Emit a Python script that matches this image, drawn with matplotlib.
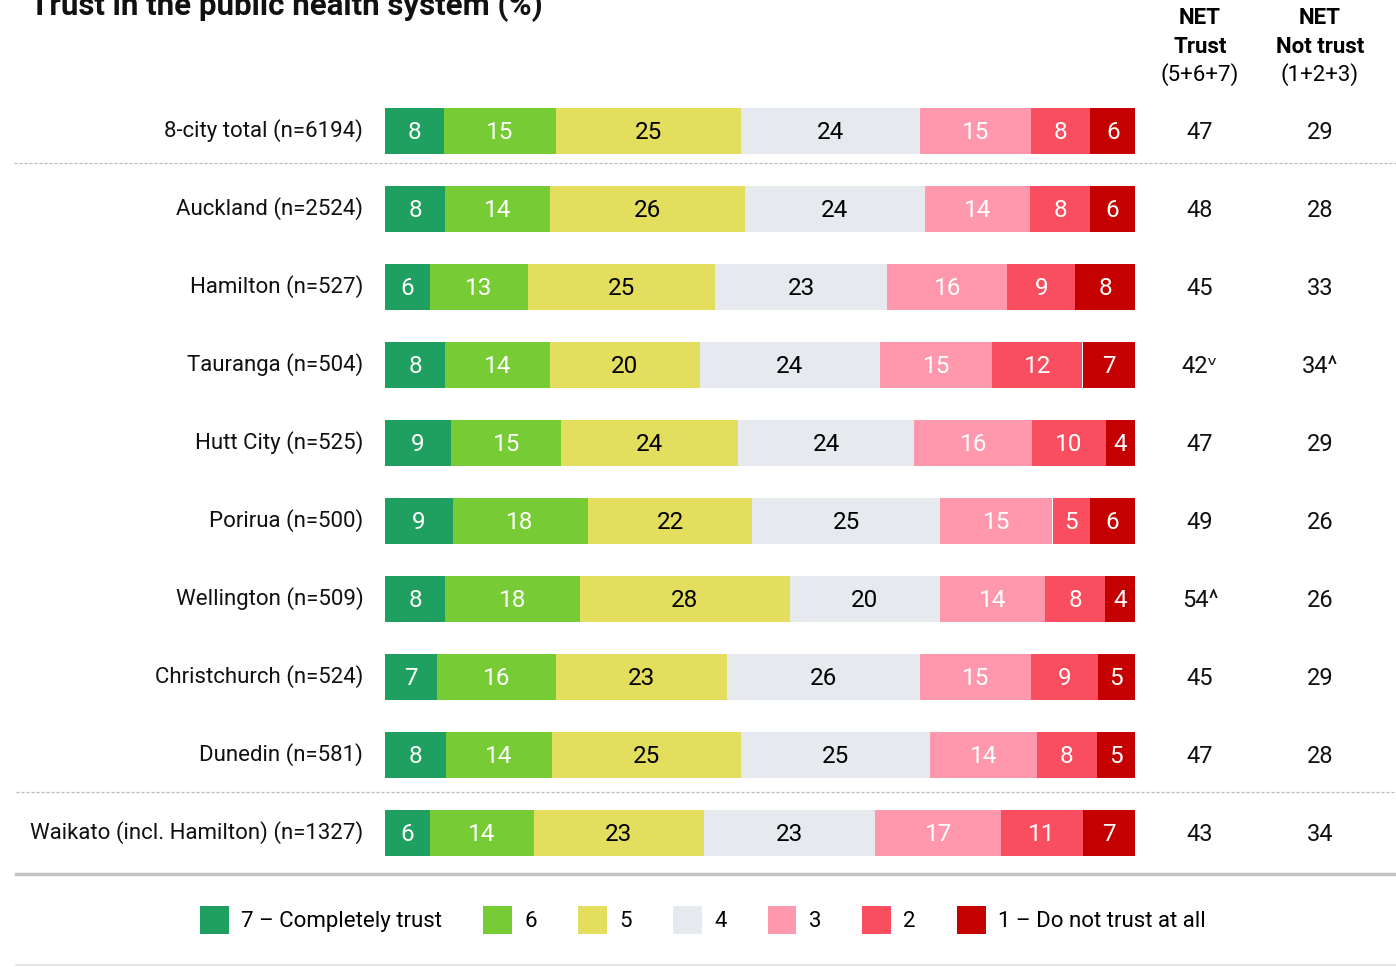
import matplotlib
matplotlib.use("Agg")
import matplotlib.pyplot as plt
from matplotlib import font_manager
from matplotlib.patches import Patch
from matplotlib.lines import Line2D
import numpy as np

# ---------------- data ----------------
categories = ["8-city total (n=6194)", "Auckland (n=2524)", "Hamilton (n=527)",
              "Tauranga (n=504)", "Hutt City (n=525)", "Porirua (n=500)",
              "Wellington (n=509)", "Christchurch (n=524)", "Dunedin (n=581)",
              "Waikato (incl. Hamilton) (n=1327)"]
series_names = ["7 – Completely trust", "6", "5", "4", "3", "2", "1 – Do not trust at all"]
s7 = [8, 8, 6, 8, 9, 9, 8, 7, 8, 6]
s6 = [15, 14, 13, 14, 15, 18, 18, 16, 14, 14]
s5 = [25, 26, 25, 20, 24, 22, 28, 23, 25, 23]
s4 = [24, 24, 23, 24, 24, 25, 20, 26, 25, 23]
s3 = [15, 14, 16, 15, 16, 15, 14, 15, 14, 17]
s2 = [8, 8, 9, 12, 10, 5, 8, 9, 8, 11]
s1 = [6, 6, 8, 7, 4, 6, 4, 5, 5, 7]
net_trust = ["47", "48", "45", "42ᵛ", "47", "49", "54^", "45", "47", "43"]
net_not_trust = ["29", "28", "33", "34^", "29", "26", "26", "29", "28", "34"]

colors = ["#1FA060", "#77CC35", "#E3DE5E", "#E6E9ED", "#FF98AC", "#F84E60", "#C40000"]
text_colors = ["white", "white", "black", "black", "white", "white", "white"]

# ---------------- font ----------------
avail = {f.name for f in font_manager.fontManager.ttflist}
fam = None
for cand in ["Liberation Sans Narrow", "DejaVu Sans Condensed", "Roboto", "DejaVu Sans"]:
    if cand in avail:
        fam = cand
        break
plt.rcParams["font.family"] = [fam, "DejaVu Sans"]

W, H = 1396, 967
fig = plt.figure(figsize=(W / 100, H / 100), dpi=100)

def fx(px):
    return px / W

def fy(py):
    return 1 - py / H

# bar axes: x 385..1135 px, y 92..872 px
ax = fig.add_axes([fx(385), fy(872), fx(1135) - fx(385), (872 - 92) / H])
ax.set_xlim(0, 100)
ax.set_ylim(len(categories) - 0.5, -0.5)
ax.axis("off")

data = np.array([s7, s6, s5, s4, s3, s2, s1], dtype=float)
totals = data.sum(axis=0)
shares = data / totals * 100
y = np.arange(len(categories))
left = np.zeros(len(categories))
for k in range(len(series_names)):
    ax.barh(y, shares[k], left=left, height=0.58, color=colors[k], edgecolor="none")
    for i in range(len(categories)):
        ax.text(left[i] + shares[k][i] / 2, y[i] + 0.02, f"{int(data[k][i])}", ha="center", va="center",
                color=text_colors[k], fontsize=17.5)
    left += shares[k]

# category labels
for i, c in enumerate(categories):
    ax.text(-2.9, y[i], c, ha="right", va="center", fontsize=16, color="#111111")

# NET columns
def xdata(px):
    return (px - 385) / 750 * 100

for i in range(len(categories)):
    ax.text(xdata(1200), y[i] + 0.02, net_trust[i], ha="center", va="center", fontsize=17, color="#111111", clip_on=False)
    ax.text(xdata(1320), y[i] + 0.02, net_not_trust[i], ha="center", va="center", fontsize=17, color="#111111", clip_on=False)

# headers
for xc, l2, l3 in [(1200, "Trust", "(5+6+7)"), (1320, "Not trust", "(1+2+3)")]:
    fig.text(fx(xc), fy(18), "NET", ha="center", va="center", fontsize=16, fontweight="bold")
    fig.text(fx(xc), fy(47), l2, ha="center", va="center", fontsize=16, fontweight="bold")
    fig.text(fx(xc), fy(75), l3, ha="center", va="center", fontsize=16)

# title (cut off at top, as in the reference)
fig.text(fx(30), fy(15), "Trust in the public health system (%)", ha="left", va="baseline",
         fontsize=22.5, fontweight="bold", color="#111111")

# separator lines
fig.add_artist(Line2D([fx(14), 1], [fy(163), fy(163)], color="#BBBBBB", lw=0.9, ls=(0, (2.5, 1.5))))
fig.add_artist(Line2D([fx(16), 1], [fy(792), fy(792)], color="#BBBBBB", lw=0.9, ls=(0, (2.5, 1.5))))
fig.add_artist(Line2D([fx(16), 1], [fy(874), fy(874)], color="#C4C4C4", lw=2.5))
fig.add_artist(Line2D([fx(16), 1], [fy(965), fy(965)], color="#E0E0E0", lw=1.2))

# legend
handles = [Patch(facecolor=c, edgecolor="none") for c in colors]
fig.legend(handles, series_names, loc="center", bbox_to_anchor=(fx(703), fy(920)), ncol=7,
           frameon=False, fontsize=16, handlelength=1.3, handleheight=1.5,
           handletextpad=0.55, columnspacing=1.85)

fig.savefig("out.png", dpi=100)
